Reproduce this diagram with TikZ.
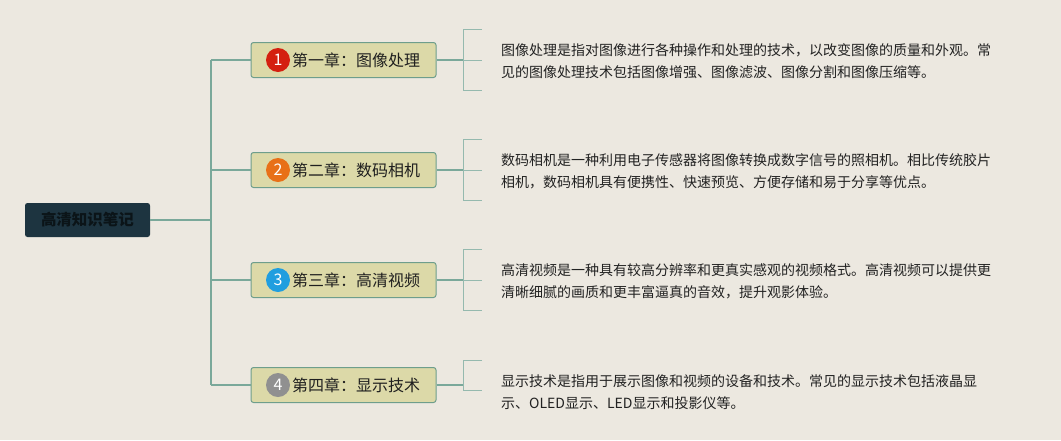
\documentclass[tikz,border=0pt]{standalone}
\usepackage{fontspec}
\newfontfamily\cjk{Noto Sans CJK SC}
\setmainfont{Noto Sans CJK SC}
\definecolor{bg}{HTML}{ECE8E0}
\definecolor{rootfill}{HTML}{1D3440}
\definecolor{roottext}{HTML}{0B1418}
\definecolor{boxfill}{HTML}{DCD9A8}
\definecolor{boxline}{HTML}{6E9E8C}
\definecolor{conn}{HTML}{7AA89A}
\definecolor{cred}{HTML}{D42010}
\definecolor{corange}{HTML}{E87018}
\definecolor{cblue}{HTML}{209EDF}
\definecolor{cgray}{HTML}{909090}
\definecolor{desc}{HTML}{222222}
\begin{document}
\begin{tikzpicture}[x=1pt,y=-1pt,
  rootbox/.style={fill=rootfill,rounded corners=2.5pt,minimum width=125pt,minimum height=34pt,inner sep=0pt,text=roottext,font=\fontsize{15.5pt}{18pt}\selectfont\bfseries},
  chapbox/.style={fill=boxfill,draw=boxline,line width=1pt,rounded corners=2.5pt,minimum width=185pt,minimum height=35pt,inner sep=0pt},
  chaptext/.style={anchor=west,inner sep=0pt,font=\fontsize{16pt}{18pt}\selectfont,text=black!88},
  numdot/.style={circle,minimum size=24pt,inner sep=0pt,text=white,font=\fontsize{16pt}{17pt}\selectfont},
  desctext/.style={anchor=west,align=left,inner sep=0pt,text=desc,font=\fontsize{14pt}{22pt}\selectfont},
  link/.style={draw=conn,line width=1.3pt},
  brk/.style={draw=conn!80,line width=1pt}
]
\fill[bg] (0,0) rectangle (1061,440);
\useasboundingbox (0,0) rectangle (1061,440);

\node[rootbox] (root) at (87.5,220) {高清知识笔记};

\coordinate (trunk) at (211,220);

\foreach \i/\y/\col/\num/\title in {1/60/cred/1/第一章：图像处理, 2/170/corange/2/第二章：数码相机, 3/280/cblue/3/第三章：高清视频, 4/385/cgray/4/第四章：显示技术}{
  \node[chapbox] (c\i) at (343.5,\y) {};
  \node[numdot,fill=\col] (n\i) at (278,\y) {\num};
  \node[chaptext] (t\i) at (292,\y) {\title};
}

\draw[link] (root.east) -- (trunk);
\coordinate (tk1) at (211,60);
\coordinate (tk4) at (211,385);
\draw[link] (tk1) -- (tk4);
\foreach \i/\y in {1/60,2/170,3/280,4/385}{
  \coordinate (tr\i) at (211,\y);
  \draw[link] (tr\i) -- (c\i.west);
}

% brackets
\foreach \i/\top/\mid/\bot in {1/29/60/90, 2/139/170/200, 3/249/280/310}{
  \coordinate (bt\i) at (463,\top);
  \coordinate (bm\i) at (463,\mid);
  \coordinate (bb\i) at (463,\bot);
  \coordinate (et\i) at (482,\top);
  \coordinate (em\i) at (482,\mid);
  \coordinate (eb\i) at (482,\bot);
  \draw[link] (c\i.east) -- (bm\i);
  \draw[brk] (et\i) -- (bt\i) -- (bb\i) -- (eb\i);
  \draw[brk] (bm\i) -- (em\i);
}
\coordinate (bt4) at (463,360);
\coordinate (bm4) at (463,385);
\coordinate (bb4) at (463,390);
\coordinate (et4) at (482,360);
\coordinate (eb4) at (482,390);
\draw[link] (c4.east) -- (bm4);
\draw[brk] (et4) -- (bt4) -- (bb4) -- (eb4);

\node[desctext] (d1) at (501,61) {图像处理是指对图像进行各种操作和处理的技术，以改变图像的质量和外观。常\\见的图像处理技术包括图像增强、图像滤波、图像分割和图像压缩等。};
\node[desctext] (d2) at (501,171) {数码相机是一种利用电子传感器将图像转换成数字信号的照相机。相比传统胶片\\相机，数码相机具有便携性、快速预览、方便存储和易于分享等优点。};
\node[desctext] (d3) at (501,281) {高清视频是一种具有较高分辨率和更真实感观的视频格式。高清视频可以提供更\\清晰细腻的画质和更丰富逼真的音效，提升观影体验。};
\node[desctext] (d4) at (501,392) {显示技术是指用于展示图像和视频的设备和技术。常见的显示技术包括液晶显\\示、OLED显示、LED显示和投影仪等。};
\end{tikzpicture}
\end{document}
